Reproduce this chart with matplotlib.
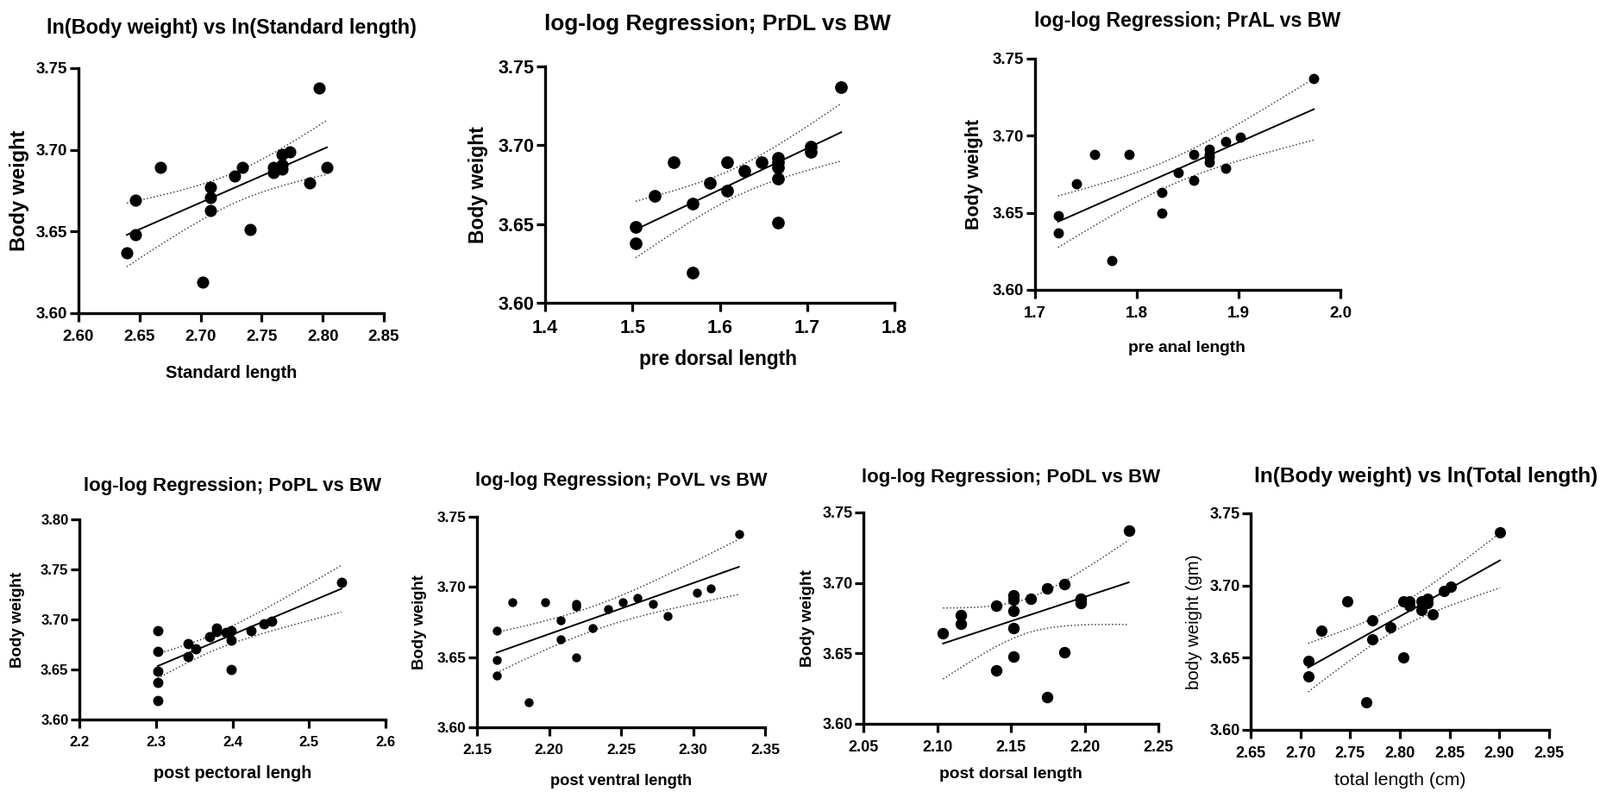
import numpy as np
import matplotlib
matplotlib.use('Agg')
import matplotlib.pyplot as plt
from matplotlib.ticker import FormatStrFormatter, MultipleLocator

plt.rcParams['font.family'] = ['Liberation Sans', 'DejaVu Sans']
plt.rcParams['font.weight'] = 'bold'

W, H = 1856, 918

# ---- data (ln values) ----
sl_x = [2.6395, 2.6466, 2.6466, 2.6673, 2.7014, 2.7082, 2.7082, 2.7082, 2.7277, 2.7343,
        2.7406, 2.7599, 2.7599, 2.7665, 2.7665, 2.7665, 2.7729, 2.7893, 2.7971, 2.8034]
sl_bw = [3.637, 3.648, 3.669, 3.689, 3.619, 3.677, 3.671, 3.663, 3.684, 3.689,
         3.651, 3.689, 3.686, 3.697, 3.691, 3.688, 3.699, 3.680, 3.738, 3.689]

prdl_x = [1.5037, 1.5037, 1.5251, 1.5472, 1.5686, 1.5686, 1.5886, 1.6084, 1.6084, 1.6281,
          1.6479, 1.6667, 1.6667, 1.6667, 1.6667, 1.6667, 1.7045, 1.7045, 1.7391]
prdl_bw = [3.648, 3.638, 3.668, 3.689, 3.663, 3.619, 3.676, 3.689, 3.671, 3.684,
           3.689, 3.692, 3.689, 3.686, 3.679, 3.651, 3.699, 3.696, 3.737]

pral_x = [1.7226, 1.7226, 1.7404, 1.7585, 1.7751, 1.7921, 1.8246, 1.8246, 1.8404, 1.8562,
          1.8562, 1.8715, 1.8715, 1.8715, 1.8715, 1.8870, 1.8870, 1.9020, 1.9740]
pral_bw = [3.648, 3.637, 3.669, 3.688, 3.619, 3.688, 3.663, 3.650, 3.676, 3.688,
           3.671, 3.691, 3.688, 3.686, 3.683, 3.696, 3.679, 3.699, 3.737]

popl_x = [2.3024, 2.3024, 2.3024, 2.3024, 2.3024, 2.3419, 2.3419, 2.3516, 2.3697, 2.3795,
          2.3795, 2.3912, 2.3979, 2.3979, 2.3979, 2.4243, 2.4412, 2.4514, 2.5424]
popl_bw = [3.689, 3.668, 3.648, 3.637, 3.619, 3.676, 3.663, 3.671, 3.683, 3.691,
           3.688, 3.687, 3.689, 3.679, 3.650, 3.689, 3.696, 3.698, 3.737]

povl_x = [2.1636, 2.1636, 2.1636, 2.1748, 2.1862, 2.1972, 2.2082, 2.2082, 2.2190, 2.2190,
          2.2190, 2.2300, 2.2408, 2.2514, 2.2616, 2.2720, 2.2822, 2.3024, 2.3124, 2.3318]
povl_bw = [3.669, 3.648, 3.637, 3.689, 3.618, 3.689, 3.676, 3.663, 3.688, 3.686,
           3.650, 3.671, 3.684, 3.689, 3.692, 3.688, 3.679, 3.696, 3.699, 3.738]

podl_x = [2.1040, 2.1161, 2.1161, 2.1401, 2.1401, 2.1519, 2.1519, 2.1519, 2.1519, 2.1519,
          2.1632, 2.1747, 2.1747, 2.1860, 2.1860, 2.1971, 2.1971, 2.2299]
podl_bw = [3.664, 3.677, 3.671, 3.684, 3.638, 3.691, 3.688, 3.680, 3.668, 3.648,
           3.689, 3.696, 3.619, 3.699, 3.651, 3.689, 3.686, 3.737]

tl_x = [2.7078, 2.7078, 2.7208, 2.7468, 2.7662, 2.7720, 2.7720, 2.7908, 2.8032, 2.8032,
        2.8095, 2.8095, 2.8214, 2.8214, 2.8277, 2.8277, 2.8330, 2.8445, 2.8509, 2.9006]
tl_bw = [3.648, 3.637, 3.669, 3.689, 3.619, 3.676, 3.663, 3.671, 3.689, 3.650,
         3.689, 3.686, 3.689, 3.683, 3.691, 3.688, 3.680, 3.696, 3.699, 3.737]


def fit_band(x, y, t=2.10):
    x = np.asarray(x)
    y = np.asarray(y)
    n = len(x)
    b, a = np.polyfit(x, y, 1)
    s = np.sqrt(np.sum((y - (a + b * x)) ** 2) / (n - 2))
    xx = np.linspace(x.min(), x.max(), 120)
    se = s * np.sqrt(1.0 / n + (xx - x.mean()) ** 2 / np.sum((x - x.mean()) ** 2))
    yy = a + b * xx
    return xx, yy, yy - t * se, yy + t * se


def px_text(x, y, s, **kw):
    fig.text(x / W, 1 - y / H, s, ha='center', va='center', **kw)


fig = plt.figure(figsize=(W / 100, H / 100), dpi=100)

# (x, y, box l r t b, xlim, xstep, xfmt, ylim, title, title pos/size, xlabel pos/size, ylabel x/size, tick size, dot px, weight of axis labels)
panels = [
    (sl_x, sl_bw, (91, 445, 79, 363), (2.60, 2.85), 0.05, '%.2f', (3.60, 3.75),
     'ln(Body weight) vs ln(Standard length)', (268, 32, 16.8),
     'Standard length', (268, 432, 14.4), 'Body weight', (23, 17), 13.5, 12.7, 'bold'),
    (prdl_x, prdl_bw, (632, 1037, 77, 351), (1.4, 1.8), 0.1, '%.1f', (3.60, 3.75),
     'log-log Regression; PrDL vs BW', (832, 28, 18.8),
     'pre dorsal length', (833, 416, 16.3), 'Body weight', (555, 16.5), 15.5, 13.3, 'bold'),
    (pral_x, pral_bw, (1200, 1554, 68, 336), (1.7, 2.0), 0.1, '%.1f', (3.60, 3.75),
     'log-log Regression; PrAL vs BW', (1377, 25, 16.7),
     'pre anal length', (1376, 404, 13.8), 'Body weight', (1130, 15.5), 13.5, 10.5, 'bold'),
    (popl_x, popl_bw, (92, 447, 602, 834), (2.2, 2.6), 0.1, '%.1f', (3.60, 3.80),
     'log-log Regression; PoPL vs BW', (270, 563, 16),
     'post pectoral lengh', (270, 897, 14.3), 'Body weight', (21, 13.5), 12, 10.5, 'bold'),
    (povl_x, povl_bw, (553, 887, 599, 843), (2.15, 2.35), 0.05, '%.2f', (3.60, 3.75),
     'log-log Regression; PoVL vs BW', (720, 558, 15.7),
     'post ventral length', (720, 906, 13.2), 'Body weight', (487, 13.3), 12.5, 9, 'bold'),
    (podl_x, podl_bw, (1001, 1343, 594, 839), (2.05, 2.25), 0.05, '%.2f', (3.60, 3.75),
     'log-log Regression; PoDL vs BW', (1172, 553, 16),
     'post dorsal length', (1172, 897, 13.8), 'Body weight', (937, 13.7), 13, 12, 'bold'),
    (tl_x, tl_bw, (1450, 1796, 595, 846), (2.65, 2.95), 0.05, '%.2f', (3.60, 3.75),
     'ln(Body weight) vs ln(Total length)', (1653, 553, 17.6),
     'total length (cm)', (1623, 905, 15.3), 'body weight (gm)', (1385, 14.7), 13, 11.7, 'normal'),
]

for (x, y, (l, r, t, b), xlim, xstep, xfmt, ylim, title, tpos, xlab, xpos, ylab, ypos,
     tfs, dot, lw8) in panels:
    ax = fig.add_axes([l / W, 1 - b / H, (r - l) / W, (b - t) / H])
    xx, yy, lo, hi = fit_band(x, y)
    ax.plot(xx, yy, color='black', lw=1.4, zorder=2)
    ax.plot(xx, lo, color='#444444', lw=1.1, ls=(0, (1, 1.6)), zorder=2)
    ax.plot(xx, hi, color='#444444', lw=1.1, ls=(0, (1, 1.6)), zorder=2)
    ax.plot(x, y, 'o', color='black', ms=dot * 0.72, zorder=3, clip_on=False)
    ax.set_xlim(*xlim)
    ax.set_ylim(*ylim)
    ax.xaxis.set_major_locator(MultipleLocator(xstep))
    ax.yaxis.set_major_locator(MultipleLocator(0.05))
    ax.xaxis.set_major_formatter(FormatStrFormatter(xfmt))
    ax.yaxis.set_major_formatter(FormatStrFormatter('%.2f'))
    for side in ('top', 'right'):
        ax.spines[side].set_visible(False)
    for side in ('left', 'bottom'):
        ax.spines[side].set_linewidth(2.4)
    ax.tick_params(direction='out', length=7, width=2.3, labelsize=tfs)
    ax.tick_params(axis='x', pad=7)
    ax.tick_params(axis='y', pad=2)
    px_text(tpos[0], tpos[1], title, fontsize=tpos[2], fontweight='bold')
    px_text(xpos[0], xpos[1], xlab, fontsize=xpos[2], fontweight=lw8)
    px_text(ypos[0], (t + b) / 2, ylab, fontsize=ypos[1], fontweight=lw8, rotation=90)

fig.savefig('out.png', dpi=100, facecolor='white')
